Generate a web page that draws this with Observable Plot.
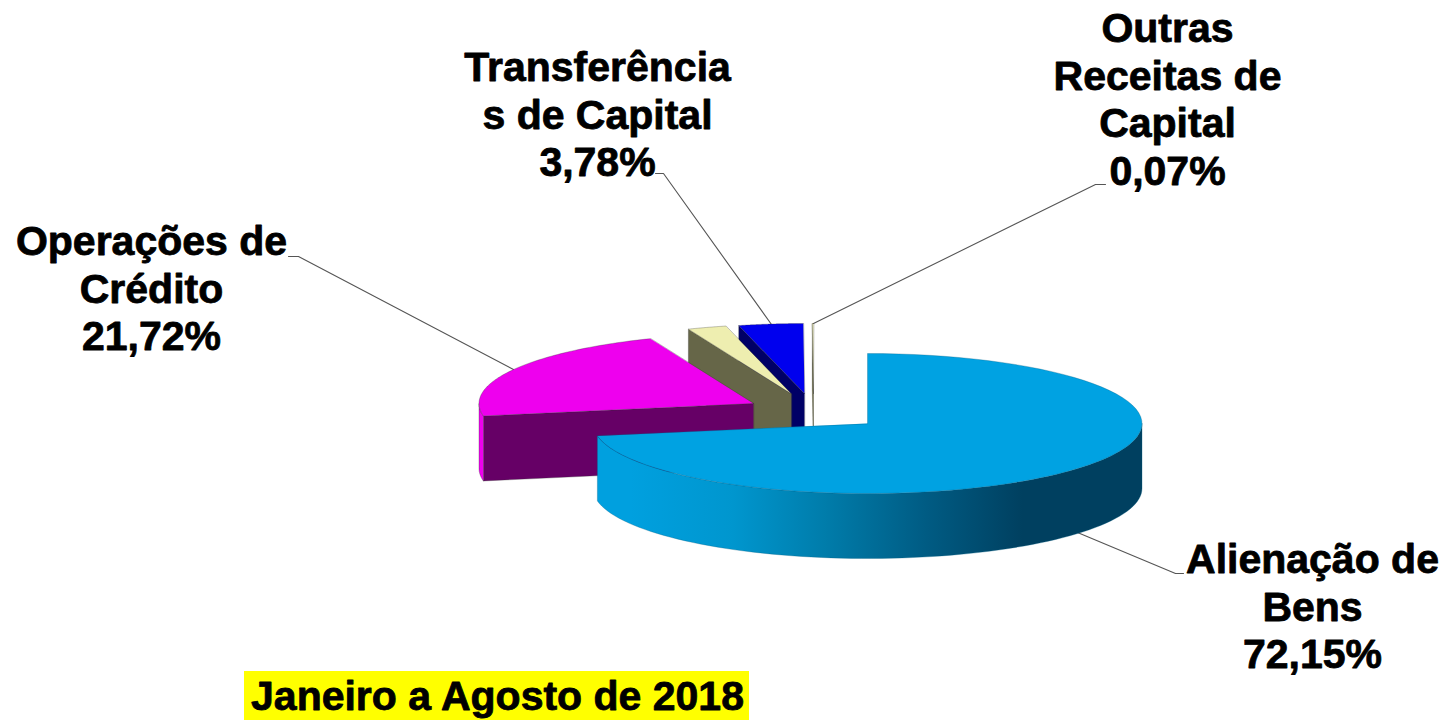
<!DOCTYPE html>
<html><head><meta charset="utf-8">
<style>html,body{margin:0;padding:0;background:#fff}svg{display:block}</style>
<script src="https://cdn.jsdelivr.net/npm/d3@7"></script>
<script src="https://cdn.jsdelivr.net/npm/@observablehq/plot@0.6"></script>
</head><body><div id="chart"></div>
<script>
// ---- data ----
const categories = ["Alienação de Bens", "Operações de Crédito", "Sem rótulo", "Transferências de Capital", "Outras Receitas de Capital"];
const shares = [72.15, 21.72, 2.28, 3.78, 0.07];
const labelTexts = ["Alienação de\nBens\n72,15%", "Operações de\nCrédito\n21,72%", "", "Transferência\ns de Capital\n3,78%", "Outras\nReceitas de\nCapital\n0,07%"];
const period = "Janeiro a Agosto de 2018";

// ---- projection and styling ----
const RX = 274.5, RY = 70, DEPTH = 65;
const apexes = [[867, 423], [753, 403], [791, 393.5], [804, 393], [813, 393]];
const topFill = ["#00A2E2", "#EE00EE", "#EEEEB0", "#0000EE", "#EEEEB0"];
const sideFill = [null, "#660066", "#666648", "#000066", "#666633"];
const rimFill = ["url(#rimGradient)", "#EE00EE", null, null, null];

const total = d3.sum(shares);
const cum = d3.cumsum(shares);
const slices = shares.map((s, i) => ({
  i, a0: ((cum[i] - s) / total) * 2 * Math.PI, a1: (cum[i] / total) * 2 * Math.PI
}));
const pt = (i, a, dz = 0) => ({
  x: apexes[i][0] + RX * Math.sin(a),
  y: apexes[i][1] - RY * Math.cos(a) + dz
});
const arc = (i, a0, a1, dz = 0) => d3.range(0, 81).map(k => pt(i, a0 + (a1 - a0) * k / 80, dz));

const line = "#333";
const poly = (points, fill, stroke = line, strokeWidth = 0.5, strokeOpacity = 0.6) =>
  Plot.line(points, {x: "x", y: "y", fill, stroke, strokeWidth, strokeOpacity, curve: "linear-closed"});

function sliceMarks(s) {
  const {i, a0, a1} = s;
  const apex = {x: apexes[i][0], y: apexes[i][1]};
  const out = [];
  // radial side facing the viewer: from apex to the leading rim corner
  if (sideFill[i]) {
    const c = pt(i, a0);
    out.push(poly([apex, c, {x: c.x, y: c.y + DEPTH}, {x: apex.x, y: apex.y + DEPTH}], sideFill[i]));
  }
  // outer wall: the part of the rim that faces front (90° to 270°)
  if (rimFill[i]) {
    const lo = Math.max(a0, Math.PI / 2), hi = Math.min(a1, 3 * Math.PI / 2);
    out.push(poly([...arc(i, lo, hi), ...arc(i, lo, hi, DEPTH).reverse()], rimFill[i], i === 0 ? "#005A80" : line));
  }
  out.push(poly([apex, ...arc(i, a0, a1)], topFill[i], i === 0 ? "#005A80" : line));
  return out;
}

// SVG gradient definition for the shaded wall of the main slice
const gradientDefs = () => {
  const defs = d3.create("svg:defs");
  const g = defs.append("linearGradient").attr("id", "rimGradient").attr("x1", 0).attr("x2", 1).attr("y1", 0).attr("y2", 0);
  [[0.06, "#00A0DF"], [0.25, "#0096CE"], [0.42, "#007CAA"], [0.6, "#005C84"], [0.78, "#004060"], [1, "#004060"]]
    .forEach(([o, c]) => g.append("stop").attr("offset", o).attr("stop-color", c));
  return defs.node();
};

const leaders = [
  [{x: 1183, y: 573}, {x: 1175, y: 573}, {x: 1077, y: 532}],
  [{x: 288, y: 256}, {x: 298, y: 256}, {x: 513, y: 369}],
  [{x: 655, y: 173}, {x: 663, y: 173}, {x: 771, y: 324}],
  [{x: 1105, y: 184}, {x: 1095, y: 184}, {x: 813, y: 323}]
];
const labelAnchors = [{x: 1312, y: 605}, {x: 151, y: 287}, {x: 597, y: 113}, {x: 1167, y: 98}];
const labelRows = labelTexts.filter(t => t).map((text, k) => ({text, ...labelAnchors[k]}));
const FS = 41;

const chart = Plot.plot({
  width: 1444, height: 720, margin: 0,
  x: {domain: [0, 1444], axis: null},
  y: {domain: [720, 0], axis: null},
  marks: [
    gradientDefs,
    ...leaders.map(l => Plot.line(l, {x: "x", y: "y", stroke: "#555", strokeWidth: 1.1})),
    // painted from the back of the scene to the front
    ...[4, 3, 2, 1, 0].flatMap(i => sliceMarks(slices[i])),
    Plot.text(labelRows, {x: "x", y: "y", text: "text", fontSize: FS, fontWeight: "bold", fontFamily: "Liberation Sans", lineHeight: 47.5 / FS, fill: "#000", stroke: "#000", strokeWidth: 0.8, textAnchor: "middle"}),
    Plot.rect([period], {x1: () => 244, x2: () => 749, y1: () => 671, y2: () => 720, fill: "#FFFF00"}),
    Plot.text([period], {x: () => 497, y: () => 696.5, text: d => d, fontSize: 41, fontWeight: "bold", fontFamily: "Liberation Sans", fill: "#000", stroke: "#000", strokeWidth: 0.8})
  ]
});
document.getElementById("chart").append(chart);
</script></body></html>
